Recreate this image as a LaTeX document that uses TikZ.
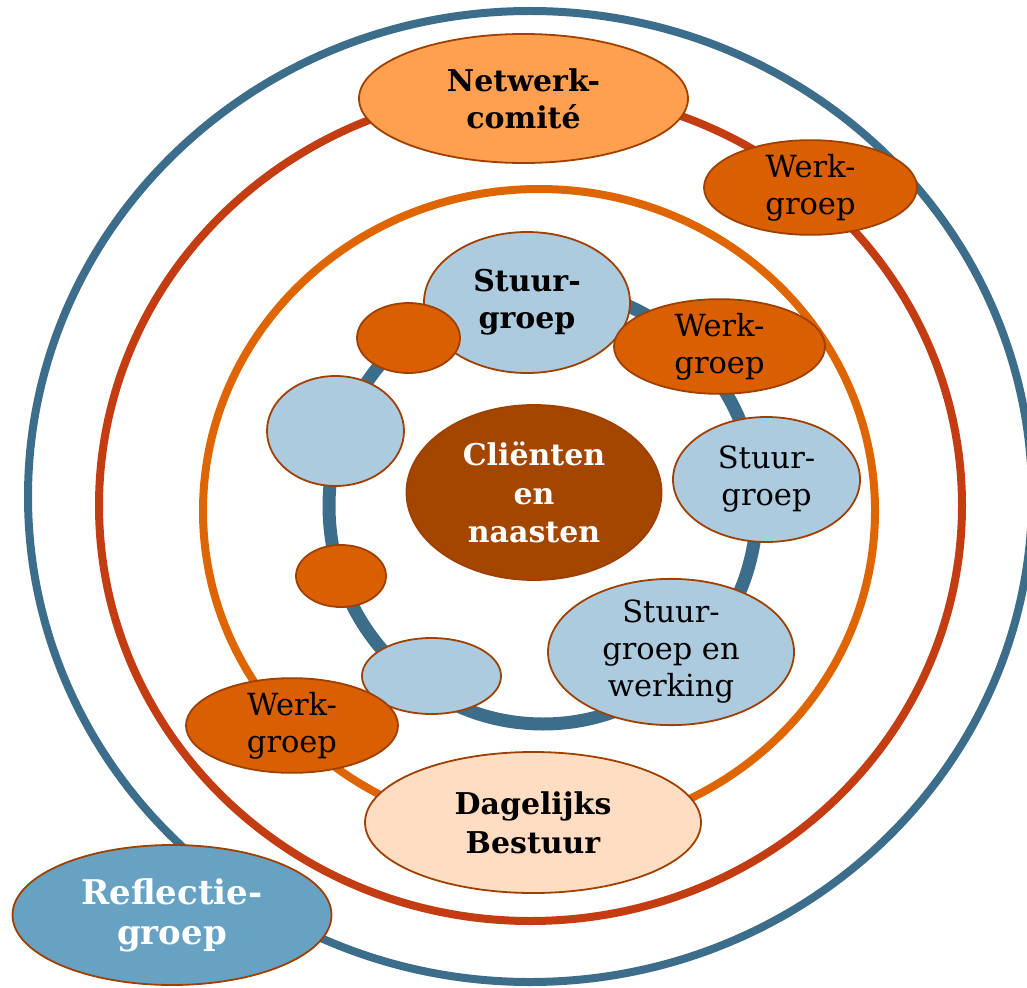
\documentclass[tikz,border=0pt]{standalone}
\usepackage{fontspec}
\setmainfont{DejaVu Serif}
\usetikzlibrary{shapes.geometric}
\definecolor{ringblue}{HTML}{3C6E8C}
\definecolor{ringred}{HTML}{C33C12}
\definecolor{ringorange}{HTML}{DF6500}
\definecolor{edgebrown}{HTML}{A04000}
\definecolor{netfill}{HTML}{FFA050}
\definecolor{werkfill}{HTML}{D95F00}
\definecolor{lightblue}{HTML}{ACCBDE}
\definecolor{clientfill}{HTML}{A34600}
\definecolor{dagfill}{HTML}{FFDDC2}
\definecolor{reflfill}{HTML}{67A2C2}
\tikzset{
  ring/.style={ellipse, draw, inner sep=0pt},
  ell/.style={ellipse, draw=edgebrown, line width=1.8pt, inner sep=0pt, align=center,
    font=\fontsize{30.5}{37}\selectfont},
  boldell/.style={ell, font=\fontsize{30}{37}\selectfont\bfseries},
  werk/.style={ell, fill=werkfill},
  lblue/.style={ell, fill=lightblue},
}
\begin{document}
\begin{tikzpicture}[x=1pt,y=-1pt]
\clip (0,0) rectangle (1027,987);
\fill[white] (0,0) rectangle (1027,987);
% rings
\node[ring, draw=ringblue, line width=8pt, minimum width=1004pt, minimum height=971pt] (outer) at (530,496.5) {};
\node[ring, draw=ringred, line width=8pt, minimum width=863pt, minimum height=831pt] (redring) at (530.5,505.5) {};
\node[ring, draw=ringorange, line width=8pt, minimum width=672pt, minimum height=644pt] (orangering) at (539,511) {};
\node[ring, draw=ringblue, line width=13pt, minimum width=428pt, minimum height=436pt] (inner) at (543,506) {};
% ellipses
\node[boldell, fill=netfill, minimum width=329pt, minimum height=129pt] (netwerk) at (523.5,98.5) {Netwerk-\\comité};
\node[werk, minimum width=213pt, minimum height=85pt] (werk1) at (810.5,187.5) {Werk-\\groep};
\node[boldell, fill=lightblue, minimum width=206pt, minimum height=141pt] (stuur1) at (527,302.5) {Stuur-\\groep};
\node[werk, minimum width=103pt, minimum height=70pt] (small1) at (408.5,338) {};
\node[werk, minimum width=211pt, minimum height=85pt] (werk2) at (719.5,346.5) {Werk-\\groep};
\node[lblue, minimum width=137pt, minimum height=110pt] (blue1) at (335.5,431) {};
\node[boldell, fill=clientfill, text=white, minimum width=255pt, minimum height=175pt,
  font=\fontsize{30}{38.5}\selectfont\bfseries] (client) at (534,492.5) {Cliënten\\en\\naasten};
\node[lblue, minimum width=187pt, minimum height=125pt] (stuur2) at (766.5,479.5) {Stuur-\\groep};
\node[werk, minimum width=90pt, minimum height=62pt] (small2) at (341,576) {};
\node[lblue, minimum width=139pt, minimum height=76pt] (blue2) at (431.5,676) {};
\node[lblue, minimum width=246pt, minimum height=140pt] (stuur3) at (671,652) {Stuur-\\groep en\\werking};
\node[werk, minimum width=212pt, minimum height=85pt] (werk3) at (292,725.5) {Werk-\\groep};
\node[boldell, fill=dagfill, minimum width=336pt, minimum height=141pt,
  font=\fontsize{30}{39}\selectfont\bfseries] (dag) at (533,822.5) {Dagelijks\\Bestuur};
\node[boldell, fill=reflfill, text=white, minimum width=319pt, minimum height=140pt,
  font=\fontsize{34}{40}\selectfont\bfseries] (refl) at (172,915) {Reflectie-\\groep};
\end{tikzpicture}
\end{document}
